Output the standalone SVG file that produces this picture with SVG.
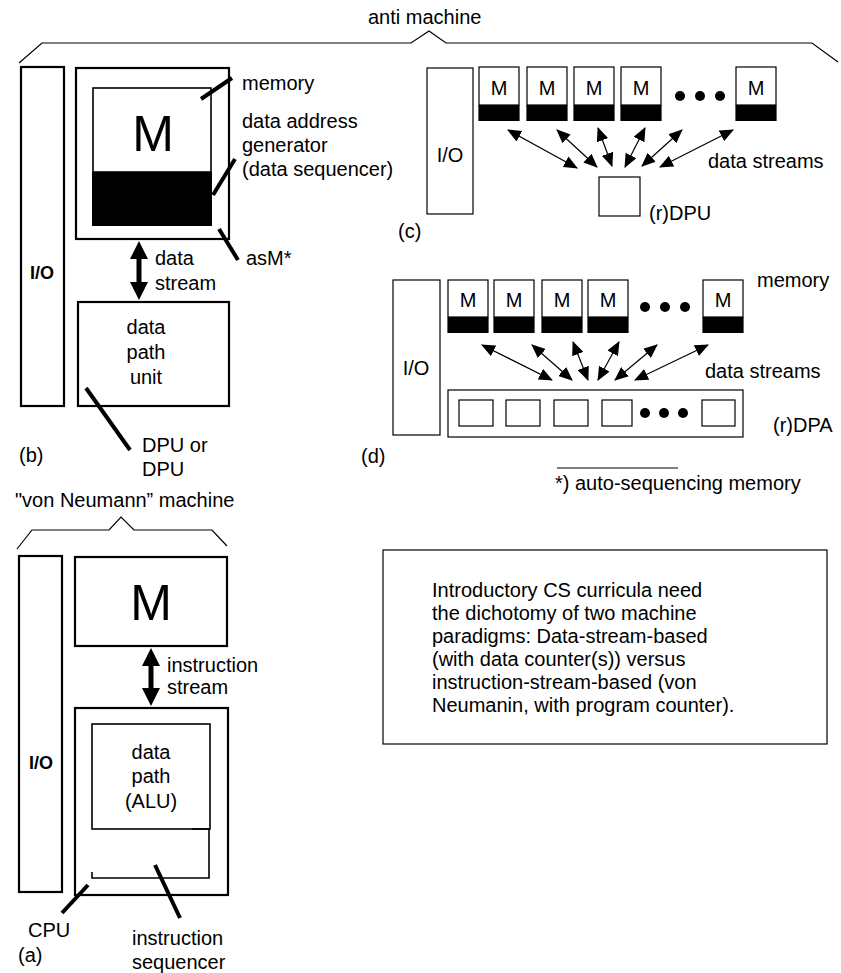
<svg xmlns="http://www.w3.org/2000/svg" width="841" height="973" viewBox="0 0 841 973">
<style>
text{font-family:"Liberation Sans",Arial,Helvetica,sans-serif;fill:#000}
.t{font-size:20px}
.tm{font-size:20px;text-anchor:middle}
.big{font-size:50px;text-anchor:middle}
.io{font-size:18px;font-weight:bold;text-anchor:middle}
.thick{fill:#fff;stroke:#000;stroke-width:2.2}
.thin{fill:#fff;stroke:#000;stroke-width:1.2}
.blk{fill:#000;stroke:none}
.lead{stroke:#000;stroke-width:4;fill:none}
.ds{stroke:#000;stroke-width:1.2;fill:none;marker-start:url(#ah);marker-end:url(#ah)}
.brace{stroke:#000;stroke-width:1.2;fill:none}
</style>
<defs>
<marker id="ah" viewBox="0 0 14 12" refX="13" refY="6" markerWidth="14" markerHeight="12" markerUnits="userSpaceOnUse" orient="auto-start-reverse">
<path d="M0 0 L14 6 L0 12 Z" fill="#000"/>
</marker>
</defs>
<rect width="841" height="973" fill="#fff"/>

<!-- braces and headings -->
<g id="anti-machine-brace">
<path class="brace" d="M19 63 L42 43 L411 43 L429 31 L446 43 L812 43 L838 62"/>
<text class="t" x="368" y="24">anti machine</text>
</g>
<g id="vn-brace">
<path class="brace" d="M17 549 L32 530 L109 530 L121 517 L134 530 L212 530 L227 546"/>
<text class="t" x="15" y="507">"von Neumann” machine</text>
</g>

<!-- panel (b) -->
<g id="b-io"><rect class="thick" x="21" y="67" width="43" height="339"/><text class="io" x="42" y="279">I/O</text></g>
<g id="b-asm">
<rect class="thick" x="76" y="68" width="153" height="171"/>
<rect class="thin" x="93" y="88" width="118" height="84" style="stroke-width:1.6"/>
<rect class="blk" x="92" y="172" width="120" height="54"/>
<text class="big" x="153" y="151">M</text>
</g>
<g id="b-dpu">
<rect class="thick" x="78" y="302" width="151" height="104"/>
<text class="tm" x="146" y="334">data</text>
<text class="tm" x="146" y="359">path</text>
<text class="tm" x="146" y="384">unit</text>
</g>
<g id="b-labels">
<text class="t" x="242" y="90">memory</text>
<text class="t" x="242" y="128">data address</text>
<text class="t" x="242" y="152">generator</text>
<text class="t" x="242" y="176">(data sequencer)</text>
<text class="t" x="246" y="265">asM*</text>
<text class="t" x="155" y="265">data</text>
<text class="t" x="155" y="290">stream</text>
<text class="t" x="142" y="452">DPU or</text>
<text class="t" x="142" y="476">DPU</text>
<text class="t" x="19" y="462">(b)</text>
</g>

<!-- panel (c) -->
<g id="c-io"><rect class="thin" x="427" y="68" width="46" height="146"/><text class="tm" x="450" y="162">I/O</text></g>
<g id="c-m1"><rect class="thin" x="479" y="67" width="40" height="38"/><rect class="blk" x="478.4" y="105" width="41.2" height="16"/><text class="tm" x="499" y="95">M</text></g>
<g id="c-m2"><rect class="thin" x="527" y="67" width="40" height="38"/><rect class="blk" x="526.4" y="105" width="41.2" height="16"/><text class="tm" x="547" y="95">M</text></g>
<g id="c-m3"><rect class="thin" x="574" y="67" width="40" height="38"/><rect class="blk" x="573.4" y="105" width="41.2" height="16"/><text class="tm" x="594" y="95">M</text></g>
<g id="c-m4"><rect class="thin" x="621" y="67" width="40" height="38"/><rect class="blk" x="620.4" y="105" width="41.2" height="16"/><text class="tm" x="641" y="95">M</text></g>
<g id="c-dots"><circle cx="680" cy="96" r="5"/><circle cx="700" cy="96" r="5"/><circle cx="720" cy="96" r="5"/></g>
<g id="c-m5"><rect class="thin" x="736" y="67" width="40" height="38"/><rect class="blk" x="735.4" y="105" width="41.2" height="16"/><text class="tm" x="756" y="95">M</text></g>
<g id="c-dpu"><rect class="thin" x="599" y="177" width="41" height="39"/><text class="t" x="649" y="220">(r)DPU</text></g>
<g id="c-labels">
<text class="t" x="708" y="168">data streams</text>
<text class="t" x="398" y="238">(c)</text>
</g>

<!-- panel (d) -->
<g id="d-io"><rect class="thin" x="393" y="280" width="47" height="155"/><text class="tm" x="416" y="375">I/O</text></g>
<g id="d-m1"><rect class="thin" x="448" y="280" width="40" height="37"/><rect class="blk" x="447.4" y="317" width="41.2" height="16"/><text class="tm" x="468" y="307">M</text></g>
<g id="d-m2"><rect class="thin" x="494" y="280" width="40" height="37"/><rect class="blk" x="493.4" y="317" width="41.2" height="16"/><text class="tm" x="514" y="307">M</text></g>
<g id="d-m3"><rect class="thin" x="542" y="280" width="40" height="37"/><rect class="blk" x="541.4" y="317" width="41.2" height="16"/><text class="tm" x="562" y="307">M</text></g>
<g id="d-m4"><rect class="thin" x="588" y="280" width="40" height="37"/><rect class="blk" x="587.4" y="317" width="41.2" height="16"/><text class="tm" x="608" y="307">M</text></g>
<g id="d-dots"><circle cx="645" cy="307" r="5"/><circle cx="665" cy="307" r="5"/><circle cx="685" cy="307" r="5"/></g>
<g id="d-m5"><rect class="thin" x="703" y="280" width="40" height="37"/><rect class="blk" x="702.4" y="317" width="41.2" height="16"/><text class="tm" x="723" y="307">M</text></g>
<g id="d-dpa">
<rect class="thin" x="448" y="390" width="295" height="47"/>
<rect class="thin" x="459" y="400" width="34" height="26"/>
<rect class="thin" x="506" y="400" width="34" height="26"/>
<rect class="thin" x="554" y="400" width="34" height="26"/>
<rect class="thin" x="602" y="400" width="30" height="26"/>
<circle cx="645" cy="413" r="5"/><circle cx="664" cy="413" r="5"/><circle cx="683" cy="413" r="5"/>
<rect class="thin" x="702" y="400" width="33" height="26"/>
<text class="t" x="773" y="432">(r)DPA</text>
</g>
<g id="d-labels">
<text class="t" x="757" y="287">memory</text>
<text class="t" x="705" y="378">data streams</text>
<text class="t" x="361" y="463">(d)</text>
<line x1="557" y1="468" x2="678" y2="468" stroke="#000" stroke-width="1"/>
<text class="t" x="555" y="490">*) auto-sequencing memory</text>
</g>

<!-- panel (a) -->
<g id="a-io"><rect class="thick" x="19" y="556" width="43" height="336"/><text class="io" x="41" y="769">I/O</text></g>
<g id="a-m"><rect class="thick" x="75" y="557" width="152" height="89"/><text class="big" x="151" y="620">M</text></g>
<g id="a-cpu">
<rect class="thick" x="75" y="708" width="153" height="187"/>
<rect class="thin" x="92" y="724" width="118" height="105" style="stroke-width:1.6"/>
<path d="M192 829 H209 V878 H92 V872" fill="none" stroke="#000" stroke-width="1.6"/>
<text class="tm" x="151" y="759">data</text>
<text class="tm" x="151" y="783">path</text>
<text class="tm" x="151" y="808">(ALU)</text>
</g>
<g id="a-labels">
<text class="t" x="167" y="672">instruction</text>
<text class="t" x="167" y="694">stream</text>
<text class="t" x="28" y="937">CPU</text>
<text class="t" x="18" y="962">(a)</text>
<text class="t" x="132" y="945">instruction</text>
<text class="t" x="132" y="969">sequencer</text>
</g>

<!-- text box -->
<g id="note">
<rect class="thin" x="383" y="550" width="444" height="194"/>
<text class="t" x="432" y="597">Introductory CS curricula need</text>
<text class="t" x="432" y="620">the dichotomy of two machine</text>
<text class="t" x="432" y="643">paradigms: Data-stream-based</text>
<text class="t" x="432" y="666">(with data counter(s)) versus</text>
<text class="t" x="432" y="689">instruction-stream-based (von</text>
<text class="t" x="432" y="712">Neumanin, with program counter).</text>
</g>

<!-- connectors -->
<g id="connectors">
<path d="M139 241 L148 259 L141.5 259 L141.5 282 L148 282 L139 300 L130 282 L136.5 282 L136.5 259 L130 259 Z" fill="#000"/>
<path d="M151 648 L160 666 L153.5 666 L153.5 688 L160 688 L151 706 L142 688 L148.5 688 L148.5 666 L142 666 Z" fill="#000"/>
<line class="lead" x1="201" y1="99" x2="232" y2="78"/>
<line class="lead" x1="213" y1="195" x2="235" y2="159"/>
<line class="lead" x1="219" y1="229" x2="238" y2="260"/>
<line class="lead" x1="86" y1="388" x2="130" y2="450"/>
<line class="lead" x1="62" y1="913" x2="88" y2="885"/>
<line class="lead" x1="155" y1="865" x2="180" y2="918"/>
<line class="ds" x1="508" y1="130" x2="577" y2="168"/>
<line class="ds" x1="557" y1="130" x2="597" y2="167"/>
<line class="ds" x1="598" y1="128" x2="612" y2="166"/>
<line class="ds" x1="645" y1="128" x2="625" y2="167"/>
<line class="ds" x1="682" y1="130" x2="642" y2="166"/>
<line class="ds" x1="733" y1="130" x2="660" y2="167"/>
<line class="ds" x1="482" y1="345" x2="552" y2="380"/>
<line class="ds" x1="532" y1="345" x2="572" y2="380"/>
<line class="ds" x1="573" y1="342" x2="588" y2="380"/>
<line class="ds" x1="619" y1="342" x2="598" y2="380"/>
<line class="ds" x1="657" y1="345" x2="615" y2="380"/>
<line class="ds" x1="708" y1="345" x2="635" y2="380"/>
</g>
</svg>
